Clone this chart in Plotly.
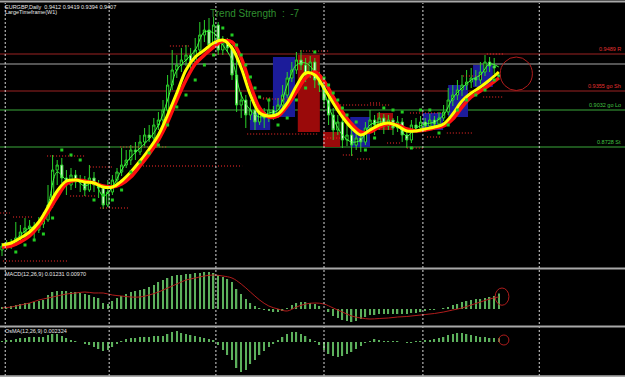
import plotly.graph_objects as go

# ---------------- data ----------------
bars = list(range(109))

open_ = [
    0.8712, 0.8728, 0.8740, 0.8736, 0.8760, 0.8784, 0.8800, 0.8808, 0.8792, 0.8816,
    0.8832, 0.8892, 0.9032, 0.9052, 0.9000, 0.8972, 0.9012, 0.8984, 0.8992, 0.8952,
    0.9000, 0.8972, 0.8960, 0.8892, 0.8944, 0.8992, 0.9024, 0.9052, 0.9072, 0.9112,
    0.9104, 0.9144, 0.9172, 0.9160, 0.9212, 0.9232, 0.9272, 0.9372, 0.9432, 0.9452,
    0.9472, 0.9492, 0.9464, 0.9512, 0.9572, 0.9592, 0.9532, 0.9612, 0.9512, 0.9544,
    0.9520, 0.9412, 0.9292, 0.9312, 0.9252, 0.9272, 0.9224, 0.9264, 0.9240, 0.9272,
    0.9252, 0.9292, 0.9332, 0.9400, 0.9432, 0.9472, 0.9452, 0.9412, 0.9464, 0.9392,
    0.9372, 0.9312, 0.9252, 0.9192, 0.9224, 0.9152, 0.9172, 0.9132, 0.9160, 0.9144,
    0.9200, 0.9232, 0.9212, 0.9240, 0.9208, 0.9232, 0.9200, 0.9224, 0.9172, 0.9152,
    0.9212, 0.9200, 0.9224, 0.9208, 0.9232, 0.9216, 0.9240, 0.9264, 0.9312, 0.9332,
    0.9352, 0.9372, 0.9384, 0.9400, 0.9392, 0.9424, 0.9464, 0.9448, 0.9412]

high = [
    0.8740, 0.8752, 0.8756, 0.8824, 0.8812, 0.8840, 0.8832, 0.8824, 0.8844, 0.8864,
    0.8972, 0.9092, 0.9072, 0.9080, 0.9032, 0.9040, 0.9032, 0.9012, 0.9008, 0.9052,
    0.9024, 0.8992, 0.8972, 0.8992, 0.9012, 0.9040, 0.9120, 0.9112, 0.9132, 0.9144,
    0.9172, 0.9200, 0.9212, 0.9240, 0.9264, 0.9312, 0.9412, 0.9512, 0.9492, 0.9520,
    0.9532, 0.9520, 0.9560, 0.9624, 0.9632, 0.9640, 0.9644, 0.9624, 0.9568, 0.9560,
    0.9532, 0.9500, 0.9344, 0.9332, 0.9312, 0.9296, 0.9292, 0.9280, 0.9312, 0.9288,
    0.9320, 0.9372, 0.9424, 0.9464, 0.9504, 0.9512, 0.9480, 0.9488, 0.9480, 0.9424,
    0.9392, 0.9332, 0.9280, 0.9252, 0.9240, 0.9212, 0.9192, 0.9184, 0.9192, 0.9224,
    0.9272, 0.9252, 0.9264, 0.9256, 0.9252, 0.9240, 0.9248, 0.9240, 0.9200, 0.9232,
    0.9240, 0.9248, 0.9240, 0.9256, 0.9248, 0.9264, 0.9292, 0.9360, 0.9372, 0.9392,
    0.9412, 0.9432, 0.9440, 0.9432, 0.9464, 0.9492, 0.9484, 0.9480, 0.9419]

low = [
    0.8688, 0.8712, 0.8716, 0.8728, 0.8744, 0.8760, 0.8772, 0.8752, 0.8780, 0.8800,
    0.8824, 0.8880, 0.8972, 0.8980, 0.8932, 0.8952, 0.8960, 0.8944, 0.8928, 0.8944,
    0.8944, 0.8920, 0.8876, 0.8884, 0.8932, 0.8976, 0.9008, 0.9040, 0.9052, 0.9072,
    0.9092, 0.9128, 0.9144, 0.9152, 0.9192, 0.9212, 0.9264, 0.9352, 0.9400, 0.9424,
    0.9448, 0.9432, 0.9456, 0.9492, 0.9544, 0.9504, 0.9520, 0.9492, 0.9492, 0.9504,
    0.9392, 0.9264, 0.9240, 0.9200, 0.9232, 0.9192, 0.9212, 0.9200, 0.9224, 0.9232,
    0.9240, 0.9280, 0.9320, 0.9384, 0.9416, 0.9432, 0.9384, 0.9400, 0.9360, 0.9344,
    0.9280, 0.9212, 0.9152, 0.9172, 0.9120, 0.9128, 0.9088, 0.9112, 0.9104, 0.9132,
    0.9184, 0.9172, 0.9192, 0.9176, 0.9192, 0.9172, 0.9184, 0.9144, 0.9120, 0.9140,
    0.9184, 0.9188, 0.9184, 0.9196, 0.9192, 0.9204, 0.9228, 0.9252, 0.9288, 0.9312,
    0.9328, 0.9352, 0.9360, 0.9368, 0.9376, 0.9408, 0.9424, 0.9416, 0.9394]

close = [
    0.8728, 0.8740, 0.8736, 0.8760, 0.8784, 0.8800, 0.8808, 0.8792, 0.8816, 0.8832,
    0.8892, 0.9032, 0.9052, 0.9000, 0.8972, 0.9012, 0.8984, 0.8992, 0.8952, 0.9000,
    0.8972, 0.8960, 0.8892, 0.8944, 0.8992, 0.9024, 0.9052, 0.9072, 0.9112, 0.9104,
    0.9144, 0.9172, 0.9160, 0.9212, 0.9232, 0.9272, 0.9372, 0.9432, 0.9452, 0.9472,
    0.9492, 0.9464, 0.9512, 0.9572, 0.9592, 0.9532, 0.9612, 0.9512, 0.9544, 0.9520,
    0.9412, 0.9292, 0.9312, 0.9252, 0.9272, 0.9224, 0.9264, 0.9240, 0.9272, 0.9252,
    0.9292, 0.9332, 0.9400, 0.9432, 0.9472, 0.9452, 0.9412, 0.9464, 0.9392, 0.9372,
    0.9312, 0.9252, 0.9192, 0.9224, 0.9152, 0.9172, 0.9132, 0.9160, 0.9144, 0.9200,
    0.9232, 0.9212, 0.9240, 0.9208, 0.9232, 0.9200, 0.9224, 0.9172, 0.9152, 0.9212,
    0.9200, 0.9224, 0.9208, 0.9232, 0.9216, 0.9240, 0.9264, 0.9312, 0.9332, 0.9352,
    0.9372, 0.9384, 0.9400, 0.9392, 0.9424, 0.9464, 0.9448, 0.9440, 0.9407]

# moving averages sampled every second bar
ma_bars = [0, 2, 4, 6, 8, 10, 12, 14, 16, 18, 20, 22, 24, 26, 28, 30, 32, 34, 36, 38,
           40, 42, 44, 46, 48, 50, 52, 54, 56, 58, 60, 62, 64, 66, 68, 70, 72, 74, 76, 78,
           80, 82, 84, 86, 88, 90, 92, 94, 96, 98, 100, 102, 104, 106, 108]
ma_yellow = [0.8732, 0.8740, 0.8760, 0.8784, 0.8824, 0.8884, 0.8948, 0.8988, 0.8992, 0.8984,
             0.8980, 0.8964, 0.8964, 0.8988, 0.9024, 0.9068, 0.9116, 0.9172, 0.9252, 0.9340,
             0.9432, 0.9484, 0.9512, 0.9540, 0.9552, 0.9520, 0.9440, 0.9332, 0.9260, 0.9248,
             0.9256, 0.9300, 0.9368, 0.9420, 0.9412, 0.9360, 0.9300, 0.9244, 0.9200, 0.9172,
             0.9192, 0.9212, 0.9220, 0.9208, 0.9188, 0.9188, 0.9196, 0.9204, 0.9216, 0.9256,
             0.9308, 0.9340, 0.9364, 0.9392, 0.9424]
ma_red = [0.8724, 0.8728, 0.8744, 0.8768, 0.8808, 0.8864, 0.8924, 0.8976, 0.8992, 0.8988,
          0.8980, 0.8968, 0.8964, 0.8976, 0.9004, 0.9048, 0.9096, 0.9152, 0.9224, 0.9312,
          0.9392, 0.9456, 0.9492, 0.9524, 0.9548, 0.9544, 0.9480, 0.9372, 0.9280, 0.9244,
          0.9248, 0.9288, 0.9344, 0.9400, 0.9424, 0.9388, 0.9324, 0.9264, 0.9216, 0.9184,
          0.9184, 0.9204, 0.9216, 0.9212, 0.9196, 0.9188, 0.9192, 0.9200, 0.9208, 0.9236,
          0.9284, 0.9324, 0.9348, 0.9372, 0.9400]
ma_fast = [0.8732, 0.8736, 0.8772, 0.8800, 0.8808, 0.8892, 0.9024, 0.8992, 0.8992, 0.8968,
           0.8984, 0.8928, 0.8964, 0.9032, 0.9084, 0.9120, 0.9156, 0.9212, 0.9312, 0.9432,
           0.9472, 0.9512, 0.9584, 0.9580, 0.9532, 0.9472, 0.9332, 0.9272, 0.9244, 0.9260,
           0.9272, 0.9372, 0.9452, 0.9460, 0.9424, 0.9344, 0.9240, 0.9172, 0.9144, 0.9152,
           0.9212, 0.9224, 0.9220, 0.9208, 0.9168, 0.9200, 0.9216, 0.9224, 0.9252, 0.9320,
           0.9360, 0.9392, 0.9412, 0.9456, 0.9444]

# trailing-stop style dots
dot_bars = [3, 5, 7, 9, 11, 13, 15, 17, 20, 22, 24, 26, 28, 30, 32, 34, 36, 38, 40, 42,
            44, 46, 48, 50, 51, 52, 53, 54, 55, 56, 58, 60, 62, 64, 66, 68, 70, 71, 72, 73,
            74, 75, 77, 79, 81, 83, 85, 87, 89, 91, 93, 95, 97, 99, 101, 103, 105, 107]
dot_price = [0.8704, 0.8732, 0.8752, 0.8776, 0.8840, 0.9112, 0.9092, 0.9072, 0.8912, 0.8932,
             0.8912, 0.8952, 0.9024, 0.9064, 0.9100, 0.9132, 0.9212, 0.9284, 0.9332, 0.9392,
             0.9452, 0.9492, 0.9600, 0.9572, 0.9532, 0.9492, 0.9452, 0.9404, 0.9360, 0.9324,
             0.9312, 0.9212, 0.9240, 0.9312, 0.9360, 0.9504, 0.9400, 0.9372, 0.9340, 0.9312,
             0.9280, 0.9252, 0.9224, 0.9112, 0.9160, 0.9280, 0.9272, 0.9264, 0.9120, 0.9272,
             0.9272, 0.9180, 0.9212, 0.9272, 0.9312, 0.9332, 0.9352, 0.9392]

# short red dotted support / resistance segments
seg_start = [0.2, -0.4, 2.4, 9.8, 19.1, 14.8, 21.3, 25.7, 30.0, 36.5, 53.3, 56.7, 64.8, 73.5,
             88.7, 100.2, 105.4, 104.6, 70.7, 74.1, 77.2, 83.7, 88.0, 92.4, 96.7, 80.0, 56.1]
seg_end = [14.3, 1.7, 6.7, 18.0, 24.1, 20.7, 27.8, 35.9, 52.2, 40.9, 68.5, 62.6, 71.3, 84.3,
           95.9, 104.6, 108.9, 108.9, 73.5, 76.3, 80.0, 86.5, 91.5, 95.2, 102.4, 82.2, 58.3]
seg_level = [0.8668, 0.8860, 0.8844, 0.9088, 0.9044, 0.8928, 0.8880, 0.9124, 0.9048, 0.9528,
             0.9176, 0.9316, 0.9508, 0.9292, 0.9260, 0.9408, 0.9496, 0.9324, 0.9160, 0.9092,
             0.9076, 0.9140, 0.9120, 0.9164, 0.9180, 0.9300, 0.9320]

# coloured zones
zone_x0 = [58.9, 53.9, 64.3, 69.8, 75.7, 81.5, 91.5, 97.0, 102.4]
zone_x1 = [63.7, 58.3, 69.1, 73.5, 80.0, 85.0, 95.9, 101.3, 106.7]
zone_top = [0.9484, 0.9260, 0.9492, 0.9184, 0.9244, 0.9260, 0.9260, 0.9372, 0.9452]
zone_bottom = [0.9244, 0.9192, 0.9184, 0.9124, 0.9124, 0.9192, 0.9192, 0.9244, 0.9364]
zone_kind = ["blue", "blue", "red", "red", "blue", "red", "blue", "blue", "blue"]

# horizontal levels
level_price = [0.9496, 0.9456, 0.9348, 0.9272, 0.9124]
level_kind = ["red", "gray", "red", "green", "green"]
level_text = ["0.9489 R", "", "0.9355 go Sh", "0.9032 go Lo", "0.8728 St"]

month_starts = [0.7, 23.3, 46.5, 70.0, 91.5, 116.8]

macd_main = [
    0.0016, 0.0016, 0.0024, 0.0032, 0.0040, 0.0048, 0.0048, 0.0056, 0.0064, 0.0072,
    0.0112, 0.0136, 0.0144, 0.0144, 0.0144, 0.0136, 0.0136, 0.0128, 0.0120, 0.0112,
    0.0096, 0.0088, 0.0048, 0.0040, 0.0064, 0.0088, 0.0104, 0.0120, 0.0136, 0.0144,
    0.0152, 0.0160, 0.0176, 0.0192, 0.0216, 0.0232, 0.0248, 0.0264, 0.0272, 0.0272,
    0.0280, 0.0280, 0.0288, 0.0288, 0.0296, 0.0296, 0.0288, 0.0272, 0.0256, 0.0240,
    0.0216, 0.0160, 0.0120, 0.0080, 0.0048, 0.0024, 0.0008, -0.0008, -0.0016, -0.0024,
    -0.0024, -0.0016, 0.0008, 0.0032, 0.0048, 0.0056, 0.0056, 0.0048, 0.0040, 0.0024,
    0.0000, -0.0024, -0.0056, -0.0072, -0.0088, -0.0096, -0.0104, -0.0096, -0.0080, -0.0064,
    -0.0048, -0.0048, -0.0040, -0.0040, -0.0040, -0.0040, -0.0040, -0.0040, -0.0040, -0.0032,
    -0.0032, -0.0024, -0.0016, -0.0008, -0.0008, 0.0000, 0.0008, 0.0016, 0.0032, 0.0040,
    0.0056, 0.0064, 0.0072, 0.0080, 0.0080, 0.0088, 0.0096, 0.0104, 0.01231]

macd_signal = [0.0008, 0.0016, 0.0032, 0.0048, 0.0072, 0.0088, 0.0104, 0.0120, 0.0128, 0.0136,
               0.0128, 0.0128, 0.0112, 0.0104, 0.0096, 0.0096, 0.0112, 0.0136, 0.0168, 0.0200,
               0.0232, 0.0248, 0.0264, 0.0272, 0.0264, 0.0248, 0.0200, 0.0136, 0.0072, 0.0024,
               0.0000, -0.0016, 0.0016, 0.0040, 0.0048, 0.0040, 0.0008, -0.0024, -0.0056, -0.0072,
               -0.0080, -0.0076, -0.0072, -0.0064, -0.0060, -0.0052, -0.0044, -0.0036, -0.0024, -0.0008,
               0.0008, 0.0032, 0.0056, 0.0080, 0.0097]

osma = [
    0.0006, 0.0012, 0.0012, 0.0018, 0.0024, 0.0024, 0.0030, 0.0030, 0.0030, 0.0030,
    0.0042, 0.0048, 0.0048, 0.0036, 0.0024, 0.0012, 0.0006, 0.0000, -0.0012, -0.0018,
    -0.0030, -0.0042, -0.0054, -0.0048, -0.0030, -0.0012, 0.0006, 0.0018, 0.0024, 0.0024,
    0.0030, 0.0030, 0.0030, 0.0036, 0.0036, 0.0036, 0.0048, 0.0060, 0.0066, 0.0054,
    0.0048, 0.0042, 0.0036, 0.0030, 0.0024, 0.0018, 0.0012, -0.0018, -0.0048, -0.0078,
    -0.0108, -0.0156, -0.0180, -0.0168, -0.0132, -0.0108, -0.0078, -0.0054, -0.0030, -0.0012,
    0.0012, 0.0030, 0.0048, 0.0060, 0.0060, 0.0048, 0.0036, 0.0018, 0.0006, -0.0018,
    -0.0048, -0.0072, -0.0084, -0.0090, -0.0084, -0.0072, -0.0060, -0.0042, -0.0024, -0.0006,
    0.0006, 0.0018, 0.0012, 0.0006, 0.0003, 0.0003, 0.0003, 0.0000, -0.0003, -0.0003,
    0.0003, 0.0006, 0.0012, 0.0012, 0.0018, 0.0024, 0.0030, 0.0042, 0.0048, 0.0054,
    0.0054, 0.0048, 0.0042, 0.0036, 0.0030, 0.0030, 0.0024, 0.0024, 0.002324]

# ---------------- styles ----------------
ZONE_COL = {"blue": "#1c1c9a", "red": "#9a0a0a"}
LEVEL_COL = {"red": "#9c2222", "gray": "#a8a8a8", "green": "#3aa83a"}
CANDLE_GREEN = "#2ad22a"
H = 377.0


def py(px):
    return 1 - px / H


fig = go.Figure()

# dotted red segments
sx, sy = [], []
for a, b, lv in zip(seg_start, seg_end, seg_level):
    sx += [a, b, None]
    sy += [lv, lv, None]
fig.add_trace(go.Scatter(x=sx, y=sy, mode="lines",
                         line=dict(color="#ff2a2a", width=1.2, dash="1px,2px"),
                         hoverinfo="skip"))

fig.add_trace(go.Candlestick(
    x=bars, open=open_, high=high, low=low, close=close,
    increasing=dict(line=dict(color=CANDLE_GREEN, width=1), fillcolor="#000000"),
    decreasing=dict(line=dict(color=CANDLE_GREEN, width=1), fillcolor="#eefbe6"),
    whiskerwidth=0, xaxis="x", yaxis="y"))

fig.add_trace(go.Scatter(x=ma_bars, y=ma_fast, mode="lines", line_shape="spline",
                         line=dict(color="#44ff44", width=1)))
fig.add_trace(go.Scatter(x=ma_bars, y=ma_red, mode="lines", line_shape="spline",
                         line=dict(color="#ff1010", width=3.5)))
fig.add_trace(go.Scatter(x=ma_bars, y=ma_yellow, mode="lines", line_shape="spline",
                         line=dict(color="#ffff00", width=3)))
fig.add_trace(go.Scatter(x=dot_bars, y=dot_price, mode="markers",
                         marker=dict(symbol="square", size=3, color="#22cc22")))

# MACD
fig.add_trace(go.Bar(x=bars, y=macd_main, width=0.3, marker=dict(color="#5cb05c", line=dict(width=0)),
                     yaxis="y2"))
fig.add_trace(go.Scatter(x=ma_bars, y=macd_signal, mode="lines", line_shape="spline",
                         line=dict(color="#b01c1c", width=1), yaxis="y2"))
# OsMA
fig.add_trace(go.Bar(x=bars, y=osma, width=0.3, marker=dict(color="#5cb05c", line=dict(width=0)),
                     yaxis="y3"))

shapes = []
for x0, x1, t, b, k in zip(zone_x0, zone_x1, zone_top, zone_bottom, zone_kind):
    shapes.append(dict(type="rect", xref="x", yref="y", x0=x0, x1=x1, y0=b, y1=t,
                       fillcolor=ZONE_COL[k], line=dict(width=0), layer="below"))
for lv, k in zip(level_price, level_kind):
    shapes.append(dict(type="line", xref="paper", yref="y", x0=0, x1=1, y0=lv, y1=lv,
                       line=dict(color=LEVEL_COL[k], width=1), layer="below"))
for m in month_starts:
    shapes.append(dict(type="line", xref="x", yref="paper", x0=m, x1=m, y0=py(376), y1=py(3),
                       line=dict(color="#d8d8d8", width=1, dash="2px,2px")))
for p in [1.5, 268.5, 326.5, 376.2]:
    shapes.append(dict(type="line", xref="paper", yref="paper", x0=0, x1=1, y0=py(p), y1=py(p),
                       line=dict(color="#a8a8a8", width=2)))
# marker circles
shapes.append(dict(type="circle", xref="x", yref="y", x0=108.3, x1=115.3, y0=0.9350, y1=0.9484,
                   line=dict(color="#b01c1c", width=1)))
shapes.append(dict(type="circle", xref="x", yref="y2", x0=107.2, x1=110.2, y0=0.0030, y1=0.0168,
                   line=dict(color="#b01c1c", width=1)))
shapes.append(dict(type="circle", xref="x", yref="y3", x0=108.0, x1=110.2, y0=-0.0018, y1=0.0042,
                   line=dict(color="#b01c1c", width=1)))

font_small = "Liberation Sans"
annotations = [
    dict(text="EURGBP,Daily  0.9412 0.9419 0.9394 0.9407", x=3 / 625, y=py(6.5), xref="paper",
         yref="paper", xanchor="left", yanchor="middle", showarrow=False,
         font=dict(family=font_small, size=5.5, color="#e8e8e8")),
    dict(text="LargeTimeframe(W1)", x=3 / 625, y=py(12.5), xref="paper", yref="paper",
         xanchor="left", yanchor="middle", showarrow=False,
         font=dict(family=font_small, size=5.5, color="#e8e8e8")),
    dict(text="Trend Strength  :  -7", x=208 / 625, y=py(13.5), xref="paper", yref="paper",
         xanchor="left", yanchor="middle", showarrow=False,
         font=dict(family="Liberation Sans", size=10, color="#2f8f2f")),
    dict(text="MACD(12,26,9) 0.01231 0.00970", x=3 / 625, y=py(274), xref="paper", yref="paper",
         xanchor="left", yanchor="middle", showarrow=False,
         font=dict(family=font_small, size=5.5, color="#e8e8e8")),
    dict(text="OsMA(12,26,9) 0.002324", x=3 / 625, y=py(331), xref="paper", yref="paper",
         xanchor="left", yanchor="middle", showarrow=False,
         font=dict(family=font_small, size=5.5, color="#e8e8e8")),
]
for lv, k, t in zip(level_price, level_kind, level_text):
    if t:
        annotations.append(dict(text=t, x=623 / 625, y=lv, xref="paper", yref="y", xanchor="right",
                                yanchor="bottom", showarrow=False,
                                font=dict(family=font_small, size=5.5,
                                          color="#e03030" if k == "red" else "#40c040")))

axis_common = dict(showgrid=False, zeroline=False, showticklabels=False, showline=False,
                   ticks="", fixedrange=True)
fig.update_layout(
    width=625, height=377, margin=dict(l=0, r=0, t=0, b=0),
    paper_bgcolor="#000000", plot_bgcolor="#000000", showlegend=False,
    xaxis=dict(range=[-0.435, 135.435], rangeslider=dict(visible=False), anchor="y", **axis_common),
    yaxis=dict(domain=[py(267), py(3)], range=[0.8644, 0.9700], anchor="x", **axis_common),
    yaxis2=dict(domain=[py(325), py(270)], range=[-0.0128, 0.0312], anchor="x", **axis_common),
    yaxis3=dict(domain=[py(375), py(328)], range=[-0.0198, 0.0084], anchor="x", **axis_common),
    shapes=shapes, annotations=annotations,
)

fig.write_html("out.html")
